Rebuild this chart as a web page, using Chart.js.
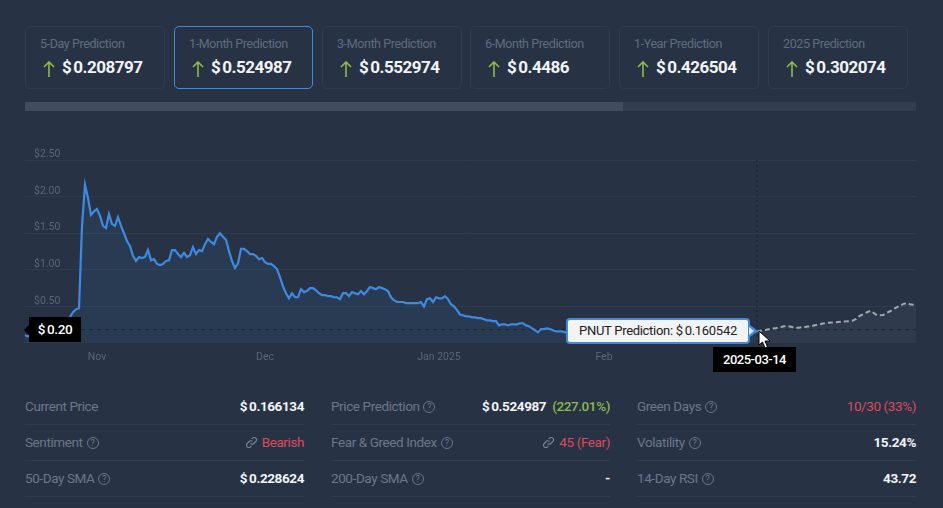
<!DOCTYPE html>
<html>
<head>
<meta charset="utf-8">
<title>PNUT Prediction</title>
<script src="https://cdn.jsdelivr.net/npm/chart.js@4"></script>
<style>
    html, body { margin: 0; padding: 0; background: #273345; }
    body { position: relative; width: 943px; height: 508px; overflow: hidden; font-family: Roboto, sans-serif; }
    canvas { position: absolute; left: 0; top: 130px; }
    .card { position: absolute; top: 26px; width: 138px; height: 61px; border: 1px solid #2f3c50; border-radius: 5px; }
    .card.active { border-color: #3f8ae0; width: 137px; }
    .card .title { position: absolute; left: 14px; top: 8.5px; font-size: 12.5px; letter-spacing: -0.4px; line-height: 16px; color: #5f6c7f; white-space: nowrap; }
    .card svg { position: absolute; left: 17px; top: 33px; }
    .card .value { position: absolute; left: 36px; top: 29px; font-size: 17px; letter-spacing: -0.5px; line-height: 22px; font-weight: 700; color: #f1f3f5; white-space: nowrap; }
    .dollar { margin-right: 2px; }
    .track { position: absolute; left: 25px; top: 102px; width: 891px; height: 9px; background: #323e50; }
    .thumb { position: absolute; left: 0; top: 0; width: 598px; height: 9px; background: #414c5e; }
    .stat { position: absolute; width: 279px; height: 36px; border-bottom: 1px solid #303d51; font-size: 13.5px; letter-spacing: -0.4px; line-height: 20px; }
    .stat .name { position: absolute; left: 0; top: 8px; color: #6b7789; white-space: nowrap; }
    .stat .val { position: absolute; right: 0; top: 8px; font-weight: 700; color: #f1f3f5; white-space: nowrap; }
    .help { display: inline-block; width: 10px; height: 10px; margin-left: 1px; border: 1px solid #6b7789; border-radius: 50%; font-size: 9px; letter-spacing: 0; line-height: 10px; text-align: center; vertical-align: 1px; }
    .red { color: #dc4a5e; font-weight: 400; }
    .green { color: #8fb84c; margin-left: 3px; font-weight: 500; }
    .val svg { vertical-align: -2px; margin-right: 1px; }
    .tip { position: absolute; white-space: nowrap; }
    .tip-price { left: 29px; top: 317px; width: 52px; height: 25px; background: #000; color: #fff; font-size: 13.5px; letter-spacing: -0.4px; font-weight: 500; line-height: 25px; text-align: center; }
    .tip-price:before { content: ""; position: absolute; left: -5px; top: 8px; border: 5px solid transparent; border-left: 0; border-right-color: #000; }
    .tip-date { left: 713px; top: 347px; width: 83px; height: 25px; background: #000; color: #fff; font-size: 13px; letter-spacing: -0.5px; font-weight: 500; line-height: 25px; text-align: center; }
    .tip-pred { left: 566px; top: 318px; width: 180px; height: 22px; background: #f2f3f4; border: 2px solid #3f8ae0; border-radius: 4px; color: #222; font-size: 13px; letter-spacing: -0.3px; line-height: 22px; text-align: center; }
    .tip-pred:after { content: ""; position: absolute; right: -10px; top: 5px; border: 6px solid transparent; border-right: 0; border-left: 8px solid #3f8ae0; }
    .tip-pred:before { content: ""; position: absolute; right: -6px; top: 7px; z-index: 1; border: 4px solid transparent; border-right: 0; border-left: 5px solid #dfe9f5; }
    .cursor { position: absolute; left: 758px; top: 330px; }
</style>
</head>
<body>
<div id="cards"></div>
<div class="track"><div class="thumb"></div></div>
<canvas id="priceChart" width="943" height="250"></canvas>
<div class="tip tip-price"><span class="dollar">$</span>0.20</div>
<div class="tip tip-pred">PNUT Prediction: <span class="dollar">$</span>0.160542</div>
<div class="tip tip-date">2025-03-14</div>
<svg class="cursor" width="14" height="20" viewBox="0 0 14 20"><path d="M1 1 L1 15 L4.5 12 L7 18 L9.5 17 L7 11 L12 11 Z" fill="#fff" stroke="#000" stroke-width="1"/></svg>
<div id="stats"></div>
<script>
// Price history, one sample per step of the category axis
const priceHistory = [
    0.105, 0.09, 0.105, 0.12, 0.13, 0.16, 0.17, 0.19, 0.20, 0.215, 0.24, 0.255, 0.285, 0.31, 0.325, 0.355, 0.42, 0.46, 0.475,
    1.60, 2.16, 1.98, 1.75, 1.80, 1.83, 1.735, 1.60, 1.57, 1.76, 1.625, 1.60, 1.72, 1.60, 1.50, 1.39, 1.325, 1.19, 1.12,
    1.175, 1.16, 1.175, 1.27, 1.13, 1.145, 1.08, 1.065, 1.08, 1.12, 1.13, 1.27, 1.27, 1.215, 1.175, 1.23, 1.175, 1.20, 1.31,
    1.215, 1.27, 1.255, 1.35, 1.42, 1.38, 1.35, 1.45, 1.50, 1.45, 1.41, 1.255, 1.12, 1.025, 1.09, 1.285, 1.285, 1.255, 1.215,
    1.215, 1.19, 1.145, 1.16, 1.105, 1.08, 1.08, 1.05, 1.01, 0.90, 0.775, 0.68, 0.61, 0.68, 0.625, 0.625, 0.735, 0.695, 0.71,
    0.75, 0.75, 0.72, 0.68, 0.655, 0.655, 0.64, 0.64, 0.625, 0.625, 0.60, 0.68, 0.68, 0.64, 0.695, 0.68, 0.665, 0.71, 0.665,
    0.71, 0.765, 0.75, 0.735, 0.765, 0.75, 0.735, 0.71, 0.625, 0.585, 0.56, 0.56, 0.56, 0.545, 0.545, 0.545, 0.545, 0.545,
    0.56, 0.50, 0.60, 0.61, 0.56, 0.625, 0.61, 0.61, 0.64, 0.60, 0.53, 0.50, 0.45, 0.39, 0.38, 0.365, 0.365, 0.35, 0.35, 0.34,
    0.34, 0.325, 0.31, 0.31, 0.30, 0.30, 0.24, 0.255, 0.255, 0.24, 0.255, 0.255, 0.255, 0.27, 0.27, 0.24, 0.23, 0.20, 0.175,
    0.145, 0.19, 0.19, 0.20, 0.19, 0.175, 0.16, 0.16, 0.16, 0.145,
    0.145, 0.15, 0.145, 0.14, 0.145, 0.15, 0.155, 0.15, 0.145, 0.14, 0.145, 0.15, 0.16, 0.155, 0.15, 0.145, 0.14, 0.145, 0.15,
    0.155, 0.16, 0.155, 0.15, 0.145, 0.15, 0.155, 0.15, 0.145, 0.14, 0.145, 0.15, 0.16, 0.165, 0.16, 0.155, 0.15, 0.145, 0.15,
    0.155, 0.15, 0.145, 0.15, 0.155, 0.16, 0.165, 0.16, 0.155, 0.15, 0.145, 0.15, 0.155, 0.16, 0.155, 0.15, 0.155, 0.16, 0.165,
    0.16, 0.155, 0.16, 0.155, 0.16, 0.165,
    0.16
];

// One month forecast, starts on the hovered date
const pricePrediction = [
    0.16, 0.167, 0.175, 0.18, 0.188, 0.196, 0.20, 0.21, 0.218, 0.228, 0.233, 0.226, 0.215, 0.21, 0.21, 0.215, 0.22, 0.226,
    0.228, 0.238, 0.248, 0.256, 0.266, 0.272, 0.277, 0.28, 0.283, 0.288, 0.292, 0.295, 0.297, 0.30, 0.307, 0.33, 0.365, 0.386,
    0.407, 0.427, 0.438, 0.407, 0.38, 0.38, 0.382, 0.407, 0.427, 0.448, 0.475, 0.496, 0.516, 0.537, 0.544, 0.53, 0.523, 0.516
];

const monthTicks = { 24: 'Nov', 80: 'Dec', 138: 'Jan 2025', 193: 'Feb' };
const currentPriceLevel = 0.183;

const cardTitles = ['5-Day Prediction', '1-Month Prediction', '3-Month Prediction', '6-Month Prediction', '1-Year Prediction', '2025 Prediction'];
const cardValues = ['0.208797', '0.524987', '0.552974', '0.4486', '0.426504', '0.302074'];
const cardLefts = [25, 174, 322, 470, 619, 768];

const linkIcon = '<svg width="13" height="13" viewBox="0 0 13 13" fill="none" stroke="#7b8797" stroke-width="1.1"><path d="M5.5 7.5a2.3 2.3 0 0 0 3.3 0l2-2a2.3 2.3 0 0 0-3.3-3.3l-.8.8"/><path d="M7.5 5.5a2.3 2.3 0 0 0-3.3 0l-2 2a2.3 2.3 0 0 0 3.3 3.3l.8-.8"/></svg> ';
const dollar = '<span class="dollar">$</span>';
const help = ' <span class="help">?</span>';

const statColumns = [25, 331, 637];
const statTops = [388, 424, 460];
const statNames = [
    ['Current Price', 'Sentiment' + help, '50-Day SMA' + help],
    ['Price Prediction' + help, 'Fear &amp; Greed Index' + help, '200-Day SMA' + help],
    ['Green Days' + help, 'Volatility' + help, '14-Day RSI' + help]
];
const statValues = [
    [dollar + '0.166134', linkIcon + '<span class="red">Bearish</span>', dollar + '0.228624'],
    [dollar + '0.524987 <span class="green">(227.01%)</span>', linkIcon + '<span class="red">45 (Fear)</span>', '-'],
    ['<span class="red">10/30 (33%)</span>', '15.24%', '43.72']
];

// Prediction cards
document.getElementById('cards').innerHTML = cardTitles.map((title, i) =>
    '<div class="card' + (i === 1 ? ' active' : '') + '" style="left:' + cardLefts[i] + 'px">' +
    '<div class="title">' + title + '</div>' +
    '<svg width="12" height="17" viewBox="0 0 12 17" fill="none" stroke="#8fb84c" stroke-width="1.6"><path d="M6 17V2M1 7l5-5 5 5"/></svg>' +
    '<div class="value">' + dollar + cardValues[i] + '</div></div>'
).join('');

// Stats table
document.getElementById('stats').innerHTML = statColumns.map((left, c) =>
    statTops.map((top, r) =>
        '<div class="stat" style="left:' + left + 'px;top:' + top + 'px">' +
        '<div class="name">' + statNames[c][r] + '</div>' +
        '<div class="val">' + statValues[c][r] + '</div></div>'
    ).join('')
).join('');

const crossIndex = priceHistory.length - 1;
const pointCount = crossIndex + pricePrediction.length;
const labels = Array.from({ length: pointCount }, (_, i) => monthTicks[i] || '');
const predictionData = Array(crossIndex).fill(null).concat(pricePrediction);
const levelData = labels.map(() => currentPriceLevel);

// Vertical dotted line on the hovered date
const crosshair = {
    id: 'crosshair',
    afterDatasetsDraw: function (chart) {
        const x = chart.scales.x.getPixelForValue(crossIndex);
        const ctx = chart.ctx;
        ctx.save();
        ctx.strokeStyle = 'rgba(18, 26, 38, 0.75)';
        ctx.lineWidth = 1;
        ctx.setLineDash([2, 3]);
        ctx.beginPath();
        ctx.moveTo(x, chart.chartArea.top);
        ctx.lineTo(x, chart.chartArea.bottom);
        ctx.stroke();
        ctx.restore();
    }
};

new Chart(document.getElementById('priceChart').getContext('2d'), {
    type: 'line',
    plugins: [crosshair],
    data: {
        labels: labels,
        datasets: [
            {
                data: priceHistory,
                borderColor: '#3f8ae0',
                borderWidth: 2.2,
                backgroundColor: 'rgba(59, 130, 220, 0.1)',
                fill: 'origin',
                pointRadius: 0
            },
            {
                data: predictionData,
                borderColor: '#a3a7ad',
                borderWidth: 2,
                borderDash: [5, 3],
                backgroundColor: 'rgba(255, 255, 255, 0.04)',
                fill: 'origin',
                pointRadius: 0
            },
            {
                data: levelData,
                borderColor: 'rgba(18, 26, 38, 0.8)',
                borderWidth: 1,
                borderDash: [4, 4],
                fill: false,
                pointRadius: 0
            }
        ]
    },
    options: {
        responsive: false,
        animation: false,
        events: [],
        layout: { padding: { left: 25, right: 27, top: 30, bottom: 0 } },
        plugins: { legend: { display: false }, tooltip: { enabled: false } },
        scales: {
            x: {
                offset: false,
                grid: { display: false },
                border: { display: false },
                afterFit: function (scale) { scale.height = 37; },
                ticks: {
                    autoSkip: false,
                    maxRotation: 0,
                    padding: 0,
                    color: '#5b6678',
                    font: { family: 'Roboto', size: 10.5 },
                    callback: function (value) { return this.getLabelForValue(value); }
                }
            },
            y: {
                min: 0,
                max: 2.5,
                border: { display: false },
                grid: {
                    drawTicks: false,
                    color: ctx => ctx.tick.value === 0 ? 'transparent' : '#2f3c4f',
                    lineWidth: 1
                },
                afterFit: function (scale) { scale.width = 0; },
                ticks: {
                    stepSize: 0.5,
                    mirror: true,
                    padding: 9,
                    labelOffset: -5.5,
                    color: '#5b6678',
                    font: { family: 'Roboto', size: 10.5 },
                    callback: value => value === 0 ? '' : '$' + value.toFixed(2)
                }
            }
        }
    }
});
</script>
</body>
</html>
